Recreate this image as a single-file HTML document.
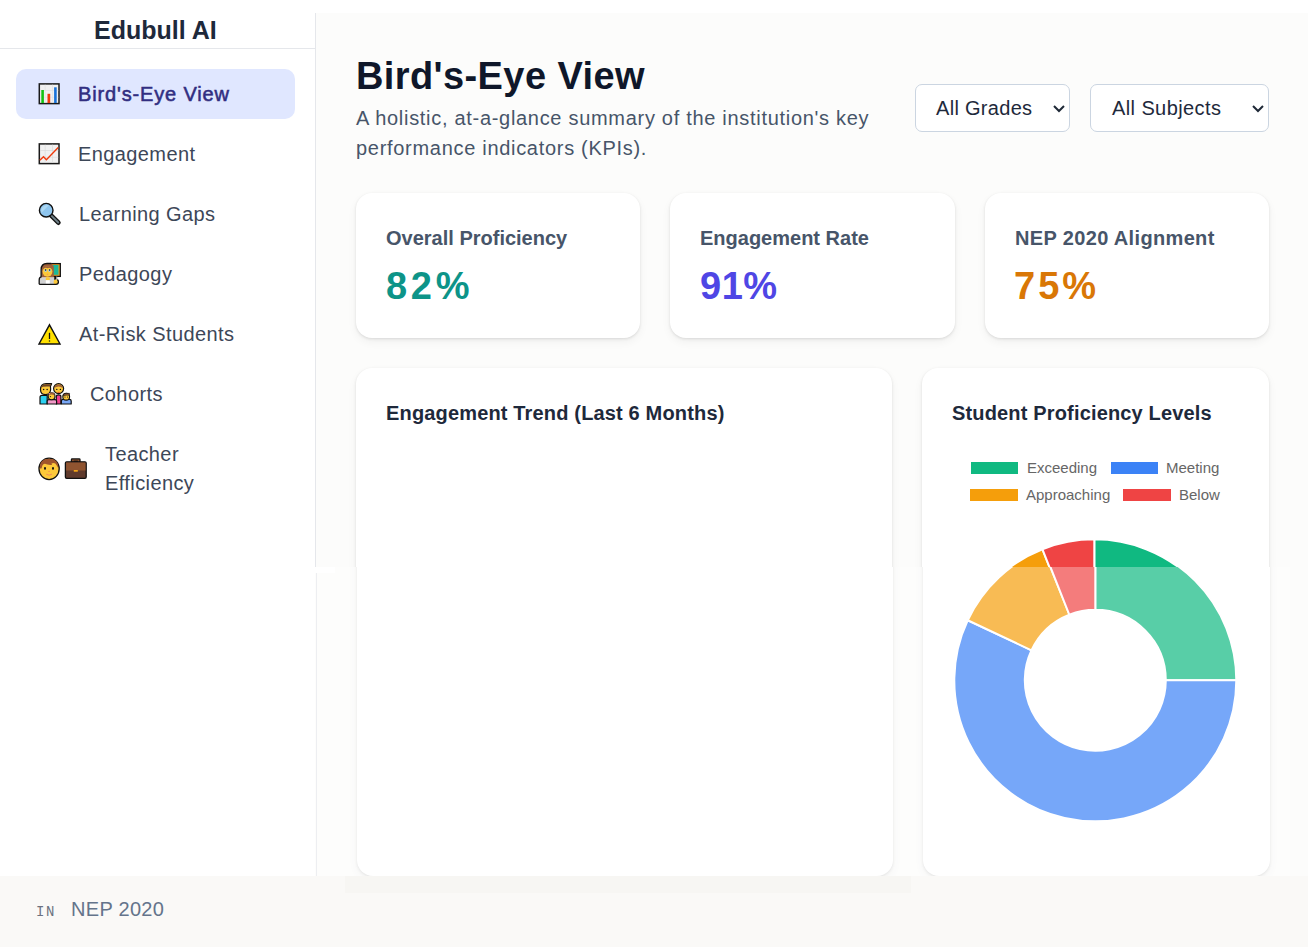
<!DOCTYPE html>
<html>
<head>
<meta charset="utf-8">
<style>
*{box-sizing:border-box;margin:0;padding:0}
html,body{width:1308px;height:947px;overflow:hidden;background:#fff;font-family:"Liberation Sans",sans-serif}
.abs{position:absolute}
.t{position:absolute;white-space:nowrap;line-height:1}
#side{left:0;top:0;width:316px;height:876px;background:#fff}
#sideborder{left:315px;top:13px;width:1px;height:554px;background:#e5e7eb}
#sideborder2{left:316px;top:573px;width:1px;height:303px;background:#e5e7eb}
#hr{left:0;top:48px;width:315px;height:1px;background:#e5e7eb}
#main{left:316px;top:13px;width:992px;height:863px;background:#fcfcfb}
#foot{left:0;top:876px;width:1308px;height:71px;background:#faf9f7}
.nav{color:#3d4758;font-size:20px;letter-spacing:0.4px}
.active{left:16px;top:69px;width:279px;height:50px;background:#e0e7ff;border-radius:10px}
.card{position:absolute;background:#fff;border-radius:16px;box-shadow:0 1px 3px rgba(0,0,0,0.11),0 4px 10px rgba(0,0,0,0.05)}
.sel{position:absolute;top:84px;height:48px;background:#fff;border:1px solid #cbd5e1;border-radius:7px}
.kl{color:#475569;font-size:20px;font-weight:700}
.kv{font-size:38px;font-weight:700}
.ct{color:#1e293b;font-size:20px;font-weight:700;letter-spacing:0.16px}
.lg{color:#666;font-size:15px}
</style>
</head>
<body>
<div id="main" class="abs"></div>
<div id="side" class="abs"></div>
<div id="sideborder" class="abs"></div>
<div id="sideborder2" class="abs"></div>
<div id="hr" class="abs"></div>

<div class="t" style="left:94px;top:18px;font-size:25px;font-weight:700;color:#1e293b;letter-spacing:0px">Edubull AI</div>

<div class="abs active"></div>

<svg class="abs" style="left:0;top:0" width="316" height="520" viewBox="0 0 316 520">
<!-- bar chart icon at 34,78 -->
<g transform="translate(34 78)">
<rect x="5.3" y="5.9" width="19.7" height="19.7" fill="#f1f1f1" stroke="#1a1a1a" stroke-width="1.5"/>
<path d="M11.2 6.6V25M18.5 6.6V25M6 12.5H24.3M6 19.3H24.3" stroke="#e0e0e0" stroke-width="0.6"/>
<rect x="7.3" y="12" width="2.6" height="13" fill="#12c212"/>
<rect x="13.5" y="15.8" width="2.7" height="9.2" fill="#f03a0c"/>
<rect x="20.1" y="9.3" width="2.6" height="15.7" fill="#1a73d9"/>
</g>
<!-- line chart icon at 34,138 -->
<g transform="translate(34 138)">
<rect x="5.3" y="5.9" width="19.7" height="19.7" fill="#f1f1f1" stroke="#1a1a1a" stroke-width="1.5"/>
<path d="M11.2 6.6V25M18.5 6.6V25M6 12.5H24.3M6 19.3H24.3" stroke="#d8d8d8" stroke-width="0.6"/>
<path d="M5.8 22.3L9.5 18.7L12.4 21.7L24.2 9.6" fill="none" stroke="#f03a0c" stroke-width="1.4"/>
</g>
<!-- magnifier at 34,198 -->
<g transform="translate(34 198)">
<path d="M17.3 17.6L24.4 24.7" stroke="#111" stroke-width="4.6" stroke-linecap="round"/>
<path d="M17.6 17.9L24.2 24.5" stroke="#6f8088" stroke-width="2" stroke-linecap="round"/>
<circle cx="12.2" cy="12.2" r="6.8" fill="#8ec5ee" stroke="#111" stroke-width="1.4"/>
<path d="M7.5 14.8A6 6 0 0 1 14.8 7.2Z" fill="#b4dcf4" opacity="0.8"/>
</g>
<!-- teacher at 34,258 -->
<g transform="translate(34 258)">
<rect x="17.2" y="5.6" width="9.1" height="12.8" fill="#f0a020" stroke="#111" stroke-width="1.3"/>
<rect x="18.3" y="7" width="6.2" height="9.8" fill="#1bb89a"/>
<path d="M7.2 19.5V11.8Q7.2 5.6 13 5.6H17.2L19.8 8.5V19.5Z" fill="#a0613a"/>
<ellipse cx="13.5" cy="13.6" rx="4.9" ry="5.1" fill="#fcc93a"/>
<path d="M9.2 11.2Q11 9.2 13.5 10.2Q16 9.2 17.8 11.2L17.8 9Q13.5 7.5 9.2 9Z" fill="#a0613a"/>
<circle cx="11.6" cy="12.6" r="1.3" fill="#9fd0ee"/><circle cx="15.6" cy="12.6" r="1.3" fill="#9fd0ee"/>
<circle cx="11.6" cy="12.1" r="0.75" fill="#111"/><circle cx="15.6" cy="12.1" r="0.75" fill="#111"/>
<path d="M12.8 16.3H14.2" stroke="#f08a5a" stroke-width="0.8"/>
<path d="M5.6 26V22Q5.6 19.4 8.6 19.4H18.5Q21 19.4 21 22V26Z" fill="#d2d2d2"/>
<rect x="11.8" y="19.3" width="4" height="2.9" fill="#fcc93a"/>
<rect x="11.8" y="22.2" width="4" height="3.8" fill="#fff"/>
<rect x="20.2" y="18.4" width="2" height="3.4" fill="#111"/>
<rect x="22.2" y="18.4" width="1.1" height="3.4" fill="#888"/>
<circle cx="21.9" cy="23.9" r="2.4" fill="#fcc93a"/>
<path d="M5.2 26.3V22Q5.2 19.3 7.1 18.9V11.8Q7.1 5.5 13 5.5H17.2M21.9 26.3H5.2M21.9 26.3Q24.4 26.3 24.4 23.9Q24.4 22.2 23.3 21.6" fill="none" stroke="#111" stroke-width="1.3" stroke-linejoin="round"/>
</g>
<!-- warning at 34,318 -->
<g transform="translate(34 318)">
<path d="M15.5 6.8L26 26H5Z" fill="#ffe000" stroke="#111" stroke-width="1.4" stroke-linejoin="miter"/>
<path d="M15.5 14.8V21" stroke="#111" stroke-width="1.3"/>
<rect x="14.85" y="22.4" width="1.3" height="1.2" fill="#111"/>
</g>
<!-- family at 34,376 -->
<g transform="translate(34 376)" stroke-linejoin="round">
<path d="M6 28V21.2Q6 19.3 8 19.3H13.2V28Z" fill="#2bd0f0" stroke="#111" stroke-width="1.2"/>
<path d="M6.5 13.5Q6.5 7.7 12 7.7H17.6L16.4 10.6Q16.7 12 16.6 14Q16 18.6 11.5 18.6Q6.5 18.6 6.5 13.5Z" fill="#fcc93a" stroke="#111" stroke-width="1.2"/>
<path d="M7.1 12.2Q7.3 8.3 12 8.3H16.7L15.9 10.6Q12 10.1 9 10.8Q7.6 11.3 7.1 12.2Z" fill="#6b4226"/>
<circle cx="9.6" cy="13.5" r="0.75" fill="#111"/><circle cx="13.1" cy="13.5" r="0.75" fill="#111"/>
<path d="M22.3 28V20.5Q22.3 18.8 24.6 18.8Q26.9 18.8 26.9 20.5V28Z" fill="#f23e8f" stroke="#111" stroke-width="1.2"/>
<circle cx="24.6" cy="12.6" r="5" fill="#fcc93a" stroke="#111" stroke-width="1.2"/>
<path d="M20.2 12A4.5 4.5 0 0 1 29 12Q27 10.4 24.6 10.4Q22.2 10.4 20.2 12Z" fill="#a0613a"/>
<circle cx="22.8" cy="13.4" r="0.7" fill="#111"/><circle cx="26.4" cy="13.4" r="0.7" fill="#111"/>
<path d="M23.6 16.4H25.6" stroke="#e8452c" stroke-width="0.9"/>
<path d="M13.2 28V25Q13.2 23.6 14.8 23.6H21Q22.6 23.6 22.6 25V28Z" fill="#f29ac8" stroke="#111" stroke-width="1.2"/>
<circle cx="17.6" cy="20.3" r="3.4" fill="#fcc93a" stroke="#111" stroke-width="1.1"/>
<path d="M14.5 19.6A3.1 3.1 0 0 1 20.7 19.6Q19 18.6 17.6 18.6Q16 18.6 14.5 19.6Z" fill="#a0613a"/>
<path d="M14 17.5L15.8 17L15.9 18.6Z" fill="#f39ac6"/>
<circle cx="16.4" cy="20.6" r="0.6" fill="#111"/>
<path d="M27.4 28V25Q27.4 23.4 29 23.4H35.5Q37.2 23.4 37.2 25V28Z" fill="#79a7f5" stroke="#111" stroke-width="1.2"/>
<circle cx="32.2" cy="20.7" r="3.4" fill="#fcc93a" stroke="#111" stroke-width="1.1"/>
<path d="M29 20Q29.2 17.4 32.2 17.4H35.6L35.2 19.2Q32 18.7 29 20Z" fill="#a0613a" stroke="#111" stroke-width="0.6"/>
<circle cx="31" cy="21" r="0.6" fill="#111"/><circle cx="33.6" cy="21" r="0.6" fill="#111"/>
</g>
<!-- face + briefcase at 34,452 -->
<g transform="translate(34 452)">
<ellipse cx="15.1" cy="16.85" rx="10.1" ry="10.7" fill="#fcc93a" stroke="#111" stroke-width="1.3"/>
<path d="M5.7 16.5Q5.2 6.8 15.1 6.8Q25 6.8 24.5 16.5L22.6 13.2Q21 10 17.5 11.5Q19 13.5 16.5 13Q13 12.6 11 11.8Q9.5 11.5 8.4 13.5L7.5 16.5Z" fill="#a0562c"/>
<ellipse cx="11" cy="16.4" rx="1" ry="1.4" fill="#111"/>
<ellipse cx="19" cy="16.4" rx="1" ry="1.4" fill="#111"/>
<path d="M14.3 19.4H15.9" stroke="#f08a5a" stroke-width="0.9"/>
<path d="M12.3 22.2Q15.1 24.2 17.9 22.2" fill="none" stroke="#f08a5a" stroke-width="1"/>
<rect x="37.4" y="6.9" width="8.6" height="3.6" rx="0.8" fill="#8f5430" stroke="#111" stroke-width="1.3"/>
<rect x="39.6" y="8.6" width="4.2" height="1.6" fill="#111"/>
<rect x="31.4" y="9.8" width="20.8" height="16.5" rx="1.3" fill="#5f3a2c" stroke="#111" stroke-width="1.3"/>
<rect x="32.1" y="10.5" width="19.4" height="8" fill="#8f5430"/>
<rect x="39.8" y="18" width="4" height="1.7" fill="#f2a516"/>
</g>
</svg>

<div class="t nav" style="left:78px;top:84px;color:#312e81;letter-spacing:0.85px;-webkit-text-stroke:0.55px #312e81">Bird's-Eye View</div>
<div class="t nav" style="left:78px;top:144px">Engagement</div>
<div class="t nav" style="left:79px;top:204px">Learning Gaps</div>
<div class="t nav" style="left:79px;top:264px">Pedagogy</div>
<div class="t nav" style="left:79px;top:324px">At-Risk Students</div>
<div class="t nav" style="left:90px;top:384px">Cohorts</div>
<div class="t nav" style="left:105px;top:444px">Teacher</div>
<div class="t nav" style="left:105px;top:473px">Efficiency</div>

<!-- header -->
<div class="t" style="left:356px;top:57px;font-size:38px;font-weight:700;color:#0f172a;letter-spacing:0.4px">Bird's-Eye View</div>
<div class="t" style="left:356px;top:108px;font-size:20px;color:#475569;letter-spacing:0.7px">A holistic, at-a-glance summary of the institution's key</div>
<div class="t" style="left:356px;top:138px;font-size:20px;color:#475569;letter-spacing:0.7px">performance indicators (KPIs).</div>

<div class="sel" style="left:915px;width:155px"></div>
<div class="t" style="left:936px;top:98px;font-size:20px;color:#1e293b;letter-spacing:0.3px">All Grades</div>
<div class="sel" style="left:1090px;width:179px"></div>
<div class="t" style="left:1112px;top:98px;font-size:20px;color:#1e293b;letter-spacing:0.4px">All Subjects</div>

<!-- KPI cards -->
<div class="card" style="left:356px;top:193px;width:284px;height:145px"></div>
<div class="card" style="left:670px;top:193px;width:285px;height:145px"></div>
<div class="card" style="left:985px;top:193px;width:284px;height:145px"></div>
<div class="t kl" style="left:386px;top:228px">Overall Proficiency</div>
<div class="t kv" style="left:386px;top:267px;color:#0d9488;letter-spacing:3.7px">82%</div>
<div class="t kl" style="left:700px;top:228px">Engagement Rate</div>
<div class="t kv" style="left:700px;top:267px;color:#4f46e5;letter-spacing:0.5px">91%</div>
<div class="t kl" style="left:1015px;top:228px;letter-spacing:0.35px">NEP 2020 Alignment</div>
<div class="t kv" style="left:1014px;top:267px;color:#d97706;letter-spacing:3px">75%</div>

<!-- chart cards -->
<div class="card" style="left:356px;top:368px;width:536px;height:508px"></div>
<div class="card" style="left:922px;top:368px;width:347px;height:508px"></div>
<div class="t ct" style="left:386px;top:403px">Engagement Trend (Last 6 Months)</div>
<div class="t ct" style="left:952px;top:403px">Student Proficiency Levels</div>


<div class="abs" style="left:315px;top:567px;width:993px;height:309px;overflow:hidden">
<div class="abs" style="left:0;top:0;width:993px;height:309px;background:#fcfcfb"></div>
<div class="abs" style="left:0;top:0;width:20px;height:6px;background:#fff"></div>
<div class="abs" style="left:1px;top:6px;width:1px;height:303px;background:#e5e7eb"></div>
<div class="card" style="left:42px;top:-199px;width:536px;height:508px"></div>
<div class="card" style="left:608px;top:-199px;width:347px;height:508px"></div>
</div>
<svg class="abs" style="left:0;top:0" width="1308" height="947" viewBox="0 0 1308 947">
<defs>
<clipPath id="cu"><rect x="900" y="500" width="400" height="67"/></clipPath>
<clipPath id="cl"><rect x="900" y="567" width="400" height="309"/></clipPath>

</defs>
<g clip-path="url(#cu)"><g transform="translate(-1 0)" stroke="#fff" stroke-width="2" stroke-linejoin="round">
<path d="M1095.30 539.30A141 141 0 0 1 1236.30 680.30L1165.80 680.30A70.5 70.5 0 0 0 1095.30 609.80Z" fill="#10b981"/>
<path d="M1236.30 680.30A141 141 0 1 1 967.72 620.27L1031.51 650.28A70.5 70.5 0 1 0 1165.80 680.30Z" fill="#3b82f6"/>
<path d="M967.72 620.27A141 141 0 0 1 1043.39 549.20L1069.35 614.75A70.5 70.5 0 0 0 1031.51 650.28Z" fill="#f59e0b"/>
<path d="M1043.39 549.20A141 141 0 0 1 1095.30 539.30L1095.30 609.80A70.5 70.5 0 0 0 1069.35 614.75Z" fill="#ef4444"/>
</g></g>
<g clip-path="url(#cl)"><g stroke="#fff" stroke-width="2" stroke-linejoin="round">
<path d="M1095.30 539.30A141 141 0 0 1 1236.30 680.30L1165.80 680.30A70.5 70.5 0 0 0 1095.30 609.80Z" fill="#10b981"/>
<path d="M1236.30 680.30A141 141 0 1 1 967.72 620.27L1031.51 650.28A70.5 70.5 0 1 0 1165.80 680.30Z" fill="#3b82f6"/>
<path d="M967.72 620.27A141 141 0 0 1 1043.39 549.20L1069.35 614.75A70.5 70.5 0 0 0 1031.51 650.28Z" fill="#f59e0b"/>
<path d="M1043.39 549.20A141 141 0 0 1 1095.30 539.30L1095.30 609.80A70.5 70.5 0 0 0 1069.35 614.75Z" fill="#ef4444"/>
</g></g>
<!-- legend -->
<rect x="971" y="462" width="47" height="12" fill="#10b981"/>
<rect x="1111" y="462" width="47" height="12" fill="#3b82f6"/>
<rect x="970" y="489" width="48" height="12" fill="#f59e0b"/>
<rect x="1123" y="489" width="48" height="12" fill="#ef4444"/>
<g font-family="Liberation Sans" font-size="15" fill="#666">
<text x="1027" y="473">Exceeding</text>
<text x="1166" y="473">Meeting</text>
<text x="1026" y="500">Approaching</text>
<text x="1179" y="500">Below</text>
</g>
<!-- select chevrons -->
<path d="M1054 106L1059 111L1064 106" fill="none" stroke="#1f2937" stroke-width="2"/>
<path d="M1253 106L1258 111L1263 106" fill="none" stroke="#1f2937" stroke-width="2"/>
</svg>
<div class="abs" style="left:315px;top:567px;width:975px;height:309px;background:rgba(255,255,255,0.3)"></div>
<div id="foot" class="abs"></div>
<div class="abs" style="left:345px;top:876px;width:566px;height:17px;background:#f7f6f3"></div>
<div class="t" style="left:36px;top:905px;font-family:'Liberation Mono',monospace;font-size:14px;color:#6b7280;letter-spacing:1.6px">IN</div>
<div class="t" style="left:71px;top:899px;font-size:20px;color:#64748b;letter-spacing:0.3px">NEP 2020</div>
</body>
</html>
